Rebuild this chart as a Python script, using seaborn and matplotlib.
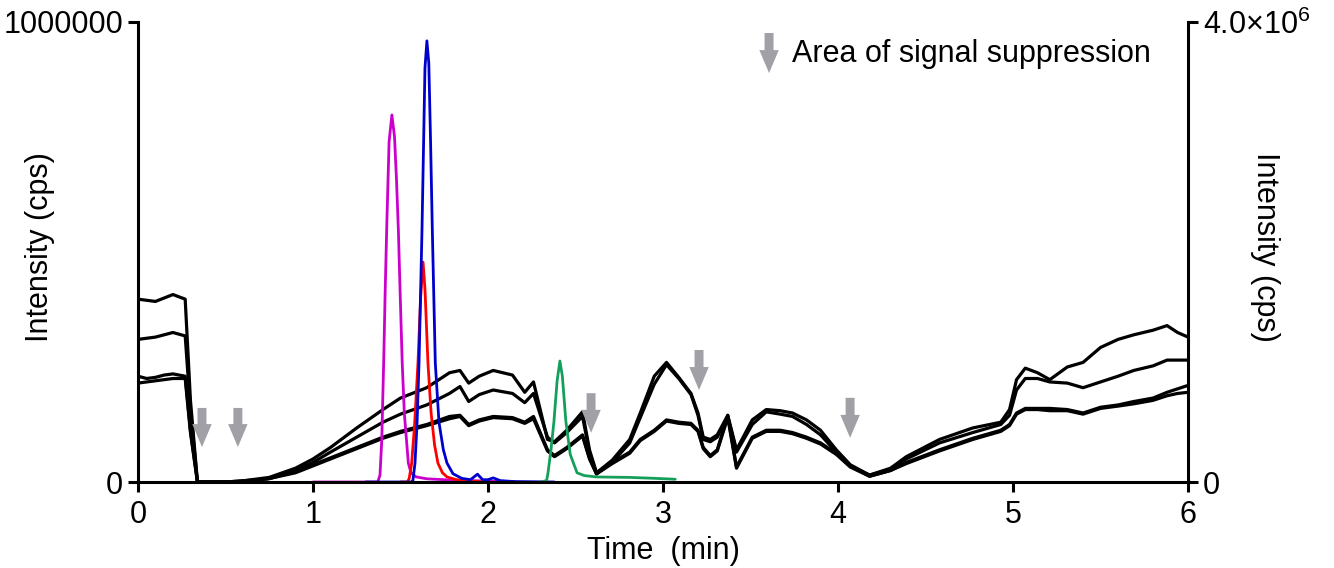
import numpy as np
import pandas as pd
import matplotlib
matplotlib.use("Agg")
import matplotlib.pyplot as plt
import seaborn as sns

# ---------------- data ----------------
# black traces (matrix infusion), right axis, values in 10^6 cps
t_bg = [0, 0.05, 0.1, 0.15, 0.2, 0.27, 0.3, 0.34, 0.5, 0.6, 0.75, 0.9, 1.0, 1.1, 1.25, 1.4, 1.5,
        1.65, 1.78, 1.84, 1.89, 1.95, 2.03, 2.14, 2.21, 2.26, 2.34, 2.38, 2.45, 2.54, 2.58,
        2.62, 2.71, 2.81, 2.87, 2.95, 3.02, 3.09, 3.16, 3.2, 3.23, 3.27, 3.31, 3.37, 3.42,
        3.51, 3.59, 3.67, 3.74, 3.82, 3.9, 3.99, 4.07, 4.18, 4.3, 4.39, 4.58, 4.77, 4.93,
        4.98, 5.02, 5.07, 5.14, 5.21, 5.31, 5.4, 5.5, 5.6, 5.69, 5.8, 5.88, 5.94, 6.0]
bg_a = [1.59, 1.58, 1.57, 1.60, 1.63, 1.59, 0.71, 0.0, 0.0, 0.01, 0.04, 0.12, 0.20, 0.30, 0.47,
        0.63, 0.73, 0.82, 0.95, 0.97, 0.86, 0.92, 0.97, 0.93, 0.78, 0.87, 0.37, 0.35, 0.45,
        0.61, 0.28, 0.08, 0.19, 0.37, 0.60, 0.92, 1.04, 0.91, 0.77, 0.60, 0.39, 0.37, 0.41,
        0.58, 0.28, 0.54, 0.63, 0.62, 0.60, 0.54, 0.45, 0.28, 0.15, 0.06, 0.12, 0.22, 0.37,
        0.47, 0.52, 0.63, 0.89, 0.99, 0.95, 0.89, 1.00, 1.04, 1.17, 1.24, 1.28, 1.32, 1.36,
        1.30, 1.26]
bg_b = [1.24, 1.25, 1.26, 1.28, 1.30, 1.27, 0.63, 0.0, 0.0, 0.01, 0.03, 0.10, 0.17, 0.26, 0.39,
        0.52, 0.59, 0.67, 0.77, 0.83, 0.70, 0.76, 0.80, 0.77, 0.69, 0.77, 0.39, 0.34, 0.43,
        0.57, 0.26, 0.08, 0.17, 0.34, 0.56, 0.85, 1.02, 0.90, 0.76, 0.58, 0.37, 0.35, 0.39,
        0.57, 0.26, 0.50, 0.61, 0.59, 0.57, 0.50, 0.41, 0.26, 0.14, 0.06, 0.11, 0.20, 0.34,
        0.43, 0.50, 0.58, 0.80, 0.90, 0.90, 0.87, 0.86, 0.82, 0.87, 0.92, 0.97, 1.01, 1.06,
        1.06, 1.06]
bg_c = [0.92, 0.90, 0.91, 0.93, 0.94, 0.92, 0.45, 0.0, 0.0, 0.005, 0.03, 0.09, 0.15, 0.21, 0.30,
        0.39, 0.44, 0.50, 0.57, 0.58, 0.50, 0.54, 0.57, 0.56, 0.52, 0.57, 0.28, 0.23, 0.30,
        0.41, 0.21, 0.07, 0.17, 0.26, 0.37, 0.45, 0.54, 0.52, 0.51, 0.45, 0.30, 0.23, 0.28,
        0.58, 0.13, 0.39, 0.45, 0.45, 0.43, 0.39, 0.34, 0.25, 0.14, 0.05, 0.10, 0.17, 0.28,
        0.38, 0.45, 0.50, 0.60, 0.64, 0.64, 0.64, 0.63, 0.60, 0.65, 0.67, 0.70, 0.73, 0.78,
        0.81, 0.84]
bg_d = [0.86, 0.87, 0.88, 0.89, 0.90, 0.90, 0.43, 0.0, 0.0, 0.005, 0.03, 0.08, 0.14, 0.20, 0.29,
        0.38, 0.43, 0.49, 0.55, 0.57, 0.49, 0.53, 0.56, 0.55, 0.51, 0.55, 0.27, 0.22, 0.29,
        0.40, 0.20, 0.07, 0.16, 0.25, 0.36, 0.44, 0.53, 0.51, 0.50, 0.44, 0.29, 0.22, 0.27,
        0.56, 0.12, 0.38, 0.44, 0.44, 0.42, 0.38, 0.33, 0.24, 0.13, 0.05, 0.10, 0.16, 0.27,
        0.37, 0.44, 0.49, 0.59, 0.63, 0.63, 0.62, 0.62, 0.59, 0.64, 0.66, 0.68, 0.71, 0.75,
        0.77, 0.78]

# analyte peaks, left axis, values in 10^3 cps
t_mag = [1.00, 1.37, 1.383, 1.393, 1.404, 1.413, 1.422, 1.435, 1.451, 1.466, 1.477, 1.488, 1.499,
         1.51, 1.522, 1.545, 1.56, 1.59, 1.65, 1.8, 2.0, 2.15]
y_mag = [0, 0, 15, 90, 259, 420, 560, 740, 798, 750, 660, 548, 400, 259, 150, 41, 20, 11, 7, 4, 2, 1]

t_blue = [1.30, 1.56, 1.571, 1.583, 1.595, 1.606, 1.623, 1.64, 1.651, 1.662, 1.672, 1.682, 1.699,
          1.72, 1.745, 1.766, 1.8, 1.85, 1.9, 1.94, 1.97, 2.0, 2.03, 2.07, 2.15, 2.38]
y_blue = [0, 0, 3, 41, 130, 259, 548, 900, 959, 910, 740, 548, 259, 130, 70, 41, 18, 8, 5, 17, 5,
          5, 9, 3, 1, 0]

t_red = [1.50, 1.54, 1.55, 1.564, 1.58, 1.6, 1.615, 1.629, 1.64, 1.657, 1.675, 1.695, 1.714,
         1.74, 1.766, 1.82, 1.9, 2.0]
y_red = [0, 0, 8, 41, 120, 259, 400, 478, 420, 259, 150, 80, 41, 20, 11, 5, 2, 0]

t_green = [2.30, 2.335, 2.343, 2.36, 2.377, 2.395, 2.411, 2.425, 2.445, 2.47, 2.509, 2.55, 2.62,
           2.81, 2.95, 3.07]
y_green = [0, 3, 20, 70, 132, 220, 263, 230, 132, 60, 20, 14, 11, 10, 8, 6]

# suppression arrows: x position (min)
arrow_x = [0.366, 0.571, 2.589, 3.206, 4.069]
legend_text = "Area of signal suppression"

# ---------------- style ----------------
sns.set_style("ticks")
plt.rcParams["font.family"] = ["Liberation Sans", "DejaVu Sans"]
plt.rcParams["mathtext.default"] = "regular"
for k in ["text.color", "axes.labelcolor", "xtick.color", "ytick.color", "axes.edgecolor"]:
    plt.rcParams[k] = "black"

fig = plt.figure(figsize=(13.34, 5.68), dpi=100)
ax = fig.add_axes([0.1034, 0.1514, 0.7872, 0.8099])
ax2 = ax.twinx()

FS = 22
LW_AX = 2.2

for t, y, c in [(t_mag, y_mag, "#CC00CC"), (t_red, y_red, "#FF0000"),
                (t_blue, y_blue, "#0000CC"), (t_green, y_green, "#14A05A")]:
    df = pd.DataFrame({"t": t, "y": np.array(y, float) * 1e3})
    sns.lineplot(data=df, x="t", y="y", ax=ax, color=c, lw=2.0, estimator=None, sort=False,
                 solid_joinstyle="round")

for ys in [bg_a, bg_b, bg_c, bg_d]:
    df = pd.DataFrame({"t": t_bg, "y": np.array(ys, float) * 1e6})
    sns.lineplot(data=df, x="t", y="y", ax=ax2, color="black", lw=2.3, estimator=None, sort=False,
                 solid_joinstyle="round")

ax.set_xlim(0, 6)
ax.set_ylim(0, 1e6)
ax2.set_ylim(0, 4e6)
ax.set_xticks(range(7))
ax.set_xticklabels([str(i) for i in range(7)])
ax.set_yticks([0, 1e6])
ax.set_yticklabels(["0", "1000000"])
ax2.set_yticks([0, 4e6])
ax2.set_yticklabels(["0", "4.0×10$^{6}$"])

ax.set_xlabel("Time  (min)", fontsize=FS, labelpad=4)
ax.set_ylabel("Intensity (cps)", fontsize=FS)
ax2.set_ylabel("Intensity (cps)", fontsize=FS, rotation=270, va="center")
ax.yaxis.set_label_coords(-0.079, 0.51)
ax2.yaxis.set_label_coords(1.073, 0.51)

for a in (ax, ax2):
    a.spines["top"].set_visible(False)
    a.tick_params(labelsize=FS, width=LW_AX, length=7, direction="out", color="black",
                  labelcolor="black")
    for s in a.spines.values():
        s.set_linewidth(LW_AX)
        s.set_color("black")
ax2.spines["left"].set_visible(False)
ax2.spines["bottom"].set_visible(False)
ax.spines["right"].set_visible(False)
ax.tick_params(axis="x", pad=6)

arrow_col = "#A0A0A6"
aprops = dict(arrowstyle="simple,head_length=1.18,head_width=1.0,tail_width=0.46",
              color=arrow_col, lw=0, mutation_scale=14, shrinkA=0, shrinkB=0)
arrow_tails = [161e3, 161e3, 193e3, 287e3, 183e3]
arrow_tips = [76e3, 76e3, 107e3, 200e3, 96e3]
for x, yt, yh in zip(arrow_x, arrow_tails, arrow_tips):
    ax.annotate("", xy=(x, yh), xytext=(x, yt), arrowprops=aprops, annotation_clip=False)

ax.annotate("", xy=(3.606, 889e3), xytext=(3.606, 976e3), arrowprops=aprops, annotation_clip=False)
ax.text(3.737, 930e3, legend_text, fontsize=FS, va="center", ha="left", color="black")

ax.set_zorder(ax2.get_zorder() + 1)
ax.patch.set_visible(False)

fig.savefig("out.png", dpi=100)
